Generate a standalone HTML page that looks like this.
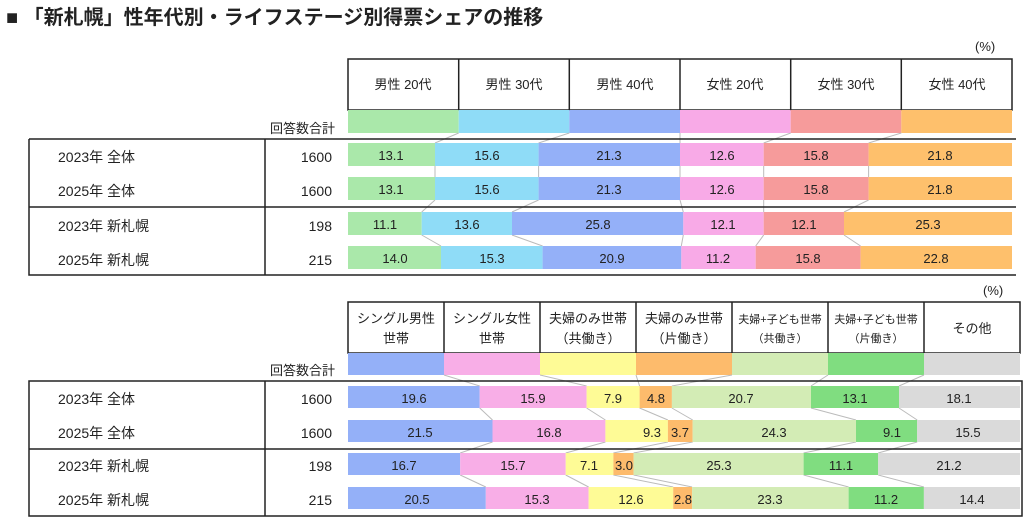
<!DOCTYPE html>
<html><head><meta charset="utf-8"><style>
body{margin:0;background:#fff}
svg{display:block}
text{font-family:"Liberation Sans","Noto Sans CJK JP",sans-serif;fill:#222}
.v{font-size:13px;text-anchor:middle}
.h{font-size:13px;text-anchor:middle}
.hs{font-size:11px;text-anchor:middle}
.l{font-size:14px}
.n{font-size:14px;text-anchor:end}
.c{stroke:#bbb;stroke-width:1;fill:none}
</style></head><body>
<svg width="1024" height="522" viewBox="0 0 1024 522">
<text x="6" y="24" style="font-size:20px;font-weight:bold">■ 「新札幌」性年代別・ライフステージ別得票シェアの推移</text>

<!-- TOP CHART -->
<text x="975" y="51" style="font-size:13px">(%)</text>
<g fill="#fff" stroke="#222" stroke-width="1.5">
<rect x="348" y="59" width="664" height="51"/>
</g>
<g stroke="#222" stroke-width="1.5">
<line x1="458.7" y1="59" x2="458.7" y2="110"/><line x1="569.3" y1="59" x2="569.3" y2="110"/><line x1="680" y1="59" x2="680" y2="110"/><line x1="790.7" y1="59" x2="790.7" y2="110"/><line x1="901.3" y1="59" x2="901.3" y2="110"/>
</g>
<text class="h" x="403" y="89">男性 20代</text><text class="h" x="514" y="89">男性 30代</text><text class="h" x="625" y="89">男性 40代</text><text class="h" x="735" y="89">女性 20代</text><text class="h" x="846" y="89">女性 30代</text><text class="h" x="957" y="89">女性 40代</text>
<rect x="348" y="110" width="110.7" height="23" fill="#aae8aa"/><rect x="458.7" y="110" width="110.6" height="23" fill="#8fdcf7"/><rect x="569.3" y="110" width="110.7" height="23" fill="#94b0f8"/><rect x="680" y="110" width="110.7" height="23" fill="#f8aae7"/><rect x="790.7" y="110" width="110.6" height="23" fill="#f69b9b"/><rect x="901.3" y="110" width="110.7" height="23" fill="#fec06c"/>
<text x="270" y="133" style="font-size:13px">回答数合計</text>
<g class="c">
<path d="M458.7 133L435 143M569.3 133L538.6 143M680 133L680 143M790.7 133L763.7 143M901.3 133L868.6 143"/>
<path d="M435 166L435 177M538.6 166L538.6 177M680 166L680 177M763.7 166L763.7 177M868.6 166L868.6 177"/>
<path d="M435 200L421.7 212M538.6 200L512 212M680 200L683.3 212M763.7 200L763.7 212M868.6 200L844 212"/>
<path d="M421.7 235L441 246M512 235L542.6 246M683.3 235L681.3 246M763.7 235L755.7 246M844 235L860.6 246"/>
</g>
<!-- row1 -->
<g>
<rect x="348" y="143" width="87" height="23" fill="#aae8aa"/><rect x="435" y="143" width="103.6" height="23" fill="#8fdcf7"/><rect x="538.6" y="143" width="141.4" height="23" fill="#94b0f8"/><rect x="680" y="143" width="83.7" height="23" fill="#f8aae7"/><rect x="763.7" y="143" width="104.9" height="23" fill="#f69b9b"/><rect x="868.6" y="143" width="143.4" height="23" fill="#fec06c"/>
<text class="v" x="391" y="160">13.1</text><text class="v" x="487" y="160">15.6</text><text class="v" x="609" y="160">21.3</text><text class="v" x="722" y="160">12.6</text><text class="v" x="816" y="160">15.8</text><text class="v" x="940" y="160">21.8</text>
</g>
<g>
<rect x="348" y="177" width="87" height="23" fill="#aae8aa"/><rect x="435" y="177" width="103.6" height="23" fill="#8fdcf7"/><rect x="538.6" y="177" width="141.4" height="23" fill="#94b0f8"/><rect x="680" y="177" width="83.7" height="23" fill="#f8aae7"/><rect x="763.7" y="177" width="104.9" height="23" fill="#f69b9b"/><rect x="868.6" y="177" width="143.4" height="23" fill="#fec06c"/>
<text class="v" x="391" y="194">13.1</text><text class="v" x="487" y="194">15.6</text><text class="v" x="609" y="194">21.3</text><text class="v" x="722" y="194">12.6</text><text class="v" x="816" y="194">15.8</text><text class="v" x="940" y="194">21.8</text>
</g>
<g>
<rect x="348" y="212" width="73.7" height="23" fill="#aae8aa"/><rect x="421.7" y="212" width="90.3" height="23" fill="#8fdcf7"/><rect x="512" y="212" width="171.3" height="23" fill="#94b0f8"/><rect x="683.3" y="212" width="80.4" height="23" fill="#f8aae7"/><rect x="763.7" y="212" width="80.3" height="23" fill="#f69b9b"/><rect x="844" y="212" width="168" height="23" fill="#fec06c"/>
<text class="v" x="385" y="229">11.1</text><text class="v" x="467" y="229">13.6</text><text class="v" x="598" y="229">25.8</text><text class="v" x="723" y="229">12.1</text><text class="v" x="804" y="229">12.1</text><text class="v" x="928" y="229">25.3</text>
</g>
<g>
<rect x="348" y="246" width="93" height="23" fill="#aae8aa"/><rect x="441" y="246" width="101.6" height="23" fill="#8fdcf7"/><rect x="542.6" y="246" width="138.7" height="23" fill="#94b0f8"/><rect x="681.3" y="246" width="74.4" height="23" fill="#f8aae7"/><rect x="755.7" y="246" width="104.9" height="23" fill="#f69b9b"/><rect x="860.6" y="246" width="151.4" height="23" fill="#fec06c"/>
<text class="v" x="395" y="263">14.0</text><text class="v" x="492" y="263">15.3</text><text class="v" x="612" y="263">20.9</text><text class="v" x="718" y="263">11.2</text><text class="v" x="808" y="263">15.8</text><text class="v" x="936" y="263">22.8</text>
</g>
<g stroke="#222" stroke-width="1.5" fill="none">
<path d="M29 139H1016M29 139V275H1016M265 139V275M29 207H1016"/>
</g>
<text class="l" x="58" y="162">2023年 全体</text><text class="l" x="58" y="196">2025年 全体</text><text class="l" x="58" y="231">2023年 新札幌</text><text class="l" x="58" y="265">2025年 新札幌</text>
<text class="n" x="332" y="162">1600</text><text class="n" x="332" y="196">1600</text><text class="n" x="332" y="231">198</text><text class="n" x="332" y="265">215</text>

<!-- BOTTOM CHART -->
<text x="983" y="295" style="font-size:13px">(%)</text>
<rect x="348" y="302" width="672" height="51" fill="#fff" stroke="#222" stroke-width="1.5"/>
<g stroke="#222" stroke-width="1.5">
<line x1="444" y1="302" x2="444" y2="353"/><line x1="540" y1="302" x2="540" y2="353"/><line x1="636" y1="302" x2="636" y2="353"/><line x1="732" y1="302" x2="732" y2="353"/><line x1="828" y1="302" x2="828" y2="353"/><line x1="924" y1="302" x2="924" y2="353"/>
</g>
<text class="h" x="396" y="323">シングル男性</text><text class="h" x="396" y="343">世帯</text>
<text class="h" x="492" y="323">シングル女性</text><text class="h" x="492" y="343">世帯</text>
<text class="h" x="588" y="323">夫婦のみ世帯</text><text class="h" x="588" y="343">（共働き）</text>
<text class="h" x="684" y="323">夫婦のみ世帯</text><text class="h" x="684" y="343">（片働き）</text>
<text class="hs" x="780" y="323">夫婦+子ども世帯</text><text class="hs" x="780" y="342">（共働き）</text>
<text class="hs" x="876" y="323">夫婦+子ども世帯</text><text class="hs" x="876" y="342">（片働き）</text>
<text class="h" x="972" y="333">その他</text>
<rect x="348" y="353" width="96" height="22" fill="#94b0f8"/><rect x="444" y="353" width="96" height="22" fill="#f8aee7"/><rect x="540" y="353" width="96" height="22" fill="#fefb96"/><rect x="636" y="353" width="96" height="22" fill="#fdbb6c"/><rect x="732" y="353" width="96" height="22" fill="#d3ecb5"/><rect x="828" y="353" width="96" height="22" fill="#80dd80"/><rect x="924" y="353" width="96" height="22" fill="#dadada"/>
<text x="270" y="375" style="font-size:13px">回答数合計</text>
<g class="c">
<path d="M444 375L479.7 386M540 375L586.6 386M636 375L639.6 386M732 375L671.9 386M828 375L811 386M924 375L899 386"/>
<path d="M479.7 408L492.5 420M586.6 408L605.4 420M639.6 408L667.9 420M671.9 408L692.7 420M811 408L856 420M899 408L917.2 420"/>
<path d="M492.5 442L460.2 453M605.4 442L565.7 453M667.9 442L613.4 453M692.7 442L633.6 453M856 442L803.6 453M917.2 442L878.2 453"/>
<path d="M460.2 475L485.8 487M565.7 475L588.6 487M613.4 475L673.2 487M633.6 475L692.1 487M803.6 475L848.6 487M878.2 475L923.9 487"/>
</g>
<g>
<rect x="348" y="386" width="131.7" height="22" fill="#94b0f8"/><rect x="479.7" y="386" width="106.9" height="22" fill="#f8aee7"/><rect x="586.6" y="386" width="53" height="22" fill="#fefb96"/><rect x="639.6" y="386" width="32.3" height="22" fill="#fdbb6c"/><rect x="671.9" y="386" width="139.1" height="22" fill="#d3ecb5"/><rect x="811" y="386" width="88" height="22" fill="#80dd80"/><rect x="899" y="386" width="121" height="22" fill="#dadada"/>
<text class="v" x="414" y="403">19.6</text><text class="v" x="533" y="403">15.9</text><text class="v" x="613" y="403">7.9</text><text class="v" x="656" y="403">4.8</text><text class="v" x="741" y="403">20.7</text><text class="v" x="855" y="403">13.1</text><text class="v" x="959" y="403">18.1</text>
</g>
<g>
<rect x="348" y="420" width="144.5" height="22" fill="#94b0f8"/><rect x="492.5" y="420" width="112.9" height="22" fill="#f8aee7"/><rect x="605.4" y="420" width="62.5" height="22" fill="#fefb96"/><rect x="667.9" y="420" width="24.8" height="22" fill="#fdbb6c"/><rect x="692.7" y="420" width="163.3" height="22" fill="#d3ecb5"/><rect x="856" y="420" width="61.2" height="22" fill="#80dd80"/><rect x="917.2" y="420" width="102.8" height="22" fill="#dadada"/>
<text class="v" x="420" y="437">21.5</text><text class="v" x="549" y="437">16.8</text><text class="v" x="652" y="437">9.3</text><text class="v" x="680" y="437">3.7</text><text class="v" x="774" y="437">24.3</text><text class="v" x="892" y="437">9.1</text><text class="v" x="968" y="437">15.5</text>
</g>
<g>
<rect x="348" y="453" width="112.2" height="22" fill="#94b0f8"/><rect x="460.2" y="453" width="105.5" height="22" fill="#f8aee7"/><rect x="565.7" y="453" width="47.7" height="22" fill="#fefb96"/><rect x="613.4" y="453" width="20.2" height="22" fill="#fdbb6c"/><rect x="633.6" y="453" width="170" height="22" fill="#d3ecb5"/><rect x="803.6" y="453" width="74.6" height="22" fill="#80dd80"/><rect x="878.2" y="453" width="141.8" height="22" fill="#dadada"/>
<text class="v" x="404" y="470">16.7</text><text class="v" x="513" y="470">15.7</text><text class="v" x="589" y="470">7.1</text><text class="v" x="624" y="470">3.0</text><text class="v" x="719" y="470">25.3</text><text class="v" x="841" y="470">11.1</text><text class="v" x="949" y="470">21.2</text>
</g>
<g>
<rect x="348" y="487" width="137.8" height="22" fill="#94b0f8"/><rect x="485.8" y="487" width="102.8" height="22" fill="#f8aee7"/><rect x="588.6" y="487" width="84.6" height="22" fill="#fefb96"/><rect x="673.2" y="487" width="18.9" height="22" fill="#fdbb6c"/><rect x="692.1" y="487" width="156.5" height="22" fill="#d3ecb5"/><rect x="848.6" y="487" width="75.3" height="22" fill="#80dd80"/><rect x="923.9" y="487" width="96.1" height="22" fill="#dadada"/>
<text class="v" x="417" y="504">20.5</text><text class="v" x="537" y="504">15.3</text><text class="v" x="631" y="504">12.6</text><text class="v" x="683" y="504">2.8</text><text class="v" x="770" y="504">23.3</text><text class="v" x="886" y="504">11.2</text><text class="v" x="972" y="504">14.4</text>
</g>
<g stroke="#222" stroke-width="1.5" fill="none">
<path d="M29 381H1022V516H29ZM265 381V516M29 449H1022"/>
</g>
<text class="l" x="58" y="404">2023年 全体</text><text class="l" x="58" y="438">2025年 全体</text><text class="l" x="58" y="471">2023年 新札幌</text><text class="l" x="58" y="505">2025年 新札幌</text>
<text class="n" x="332" y="404">1600</text><text class="n" x="332" y="438">1600</text><text class="n" x="332" y="471">198</text><text class="n" x="332" y="505">215</text>
</svg>
</body></html>
